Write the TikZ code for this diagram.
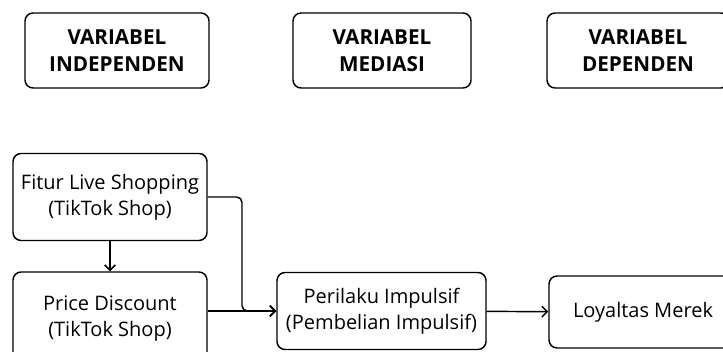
\documentclass[tikz,border=0pt]{standalone}
\usepackage{fontspec}
\setmainfont{Open Sans}
\usetikzlibrary{arrows.meta}
\begin{document}
\begin{tikzpicture}[x=0.75pt, y=-0.75pt,
  every node/.style = {shape=rectangle, rounded corners=6pt,
    draw, align=center, line width=1.1pt, inner sep=2pt},
  header/.style = {font=\fontsize{15.5}{20}\selectfont\bfseries,
    minimum height=56.25pt},
  varbox/.style = {font=\fontsize{15}{19.5}\selectfont},
  link/.style = {-{Straight Barb[length=4pt,width=8pt]}, line width=1.1pt,
    rounded corners=4pt}
  ]
  \useasboundingbox (0,0) rectangle (723,352);
  \node[header, minimum width=138pt] (hind) at (117,50.5) {VARIABEL\\INDEPENDEN};
  \node[header, minimum width=133.5pt] (hmed) at (382,50.5) {VARIABEL\\MEDIASI};
  \node[header, minimum width=136.5pt] (hdep) at (638,50.5) {VARIABEL\\DEPENDEN};

  \node[varbox, minimum width=145.5pt, minimum height=65.25pt] (fitur) at (110,197)
    {Fitur Live Shopping\\(TikTok Shop)};
  \node[varbox, minimum width=145.5pt, minimum height=70.5pt] (price) at (110,319)
    {Price Discount\\(TikTok Shop)};
  \node[varbox, minimum width=156.75pt, minimum height=57.75pt] (impuls) at (381.5,311)
    {Perilaku Impulsif\\(Pembelian Impulsif)};
  \node[varbox, minimum width=141pt, minimum height=54pt] (loyal) at (643,312)
    {Loyaltas Merek};

  \coordinate (join) at (242,311);
  \draw[link] (fitur) -- (price);
  \draw[link] (fitur.east) -| (join) -- (impuls.west);
  \draw[link] (price.east |- impuls.west) -- (impuls.west);
  \draw[link] (impuls) -- (loyal);
\end{tikzpicture}
\end{document}
